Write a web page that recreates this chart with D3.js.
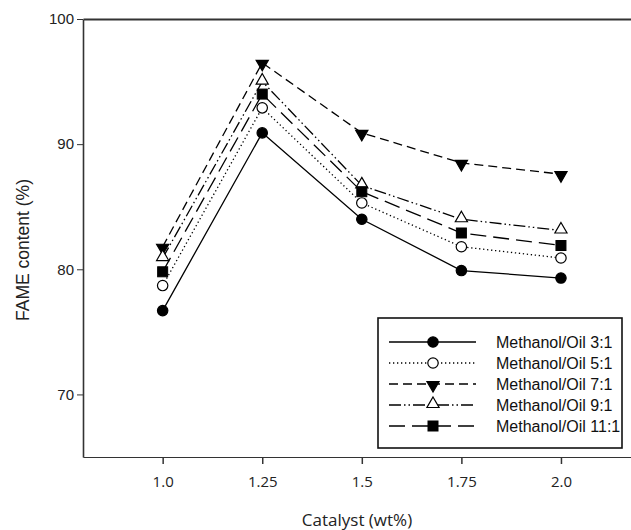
<!DOCTYPE html>
<html lang="en">
<head>
	<meta charset="UTF-8">
	<title>FAME content vs catalyst</title>
	<script src="https://cdn.jsdelivr.net/npm/d3@7/dist/d3.min.js"></script>
	<style type="text/css">
		body { margin: 0; background: #fff; }
		svg { display: block; }
		.axis path, .axis line { stroke: #333; }
		.series { fill: none; stroke: #000; stroke-width: 1.3; }
	</style>
</head>
<body>

<script type="text/javascript">
	// data
	var catalyst = [1.0, 1.25, 1.5, 1.75, 2.0];
	var xTickLabels = ['1.0', '1.25', '1.5', '1.75', '2.0'];
	var yTicks = [70, 80, 90, 100];

	var ratio3 = [76.7, 90.9, 84.0, 79.9, 79.3];
	var ratio5 = [78.7, 92.9, 85.3, 81.8, 80.9];
	var ratio7 = [81.8, 96.5, 90.9, 88.5, 87.6];
	var ratio9 = [80.9, 95.0, 86.7, 84.0, 83.1];
	var ratio11 = [79.8, 94.0, 86.2, 82.9, 81.9];

	var seriesNames = ['Methanol/Oil 3:1', 'Methanol/Oil 5:1', 'Methanol/Oil 7:1', 'Methanol/Oil 9:1', 'Methanol/Oil 11:1'];

	window.onload = function () {

		var width = 631, height = 530;
		var left = 83, top = 19, bottom = 457;

		var svg = d3.select('body').append('svg')
			.attr('width', width)
			.attr('height', height);

		var x = d3.scaleLinear().domain([0.8, 2.2]).range([left, left + 1.4 * 398.3]);
		var y = d3.scaleLinear().domain([65, 100]).range([bottom, top]);

		// styles for each series
		var styles = [
			{dash: null, marker: 'circle', fill: '#000'},
			{dash: '1.3,2.7', marker: 'circle', fill: '#fff'},
			{dash: '9,5', marker: 'down', fill: '#000'},
			{dash: '12,3,1.5,3,1.5,3', marker: 'up', fill: '#fff'},
			{dash: '16,7', marker: 'square', fill: '#000'}
		];
		var values = [ratio3, ratio5, ratio7, ratio9, ratio11];

		// axes
		svg.append('g')
			.attr('class', 'axis')
			.attr('transform', 'translate(' + left + ',0)')
			.call(d3.axisLeft(y).tickValues(yTicks).tickSize(6).tickSizeOuter(0).tickPadding(3))
			.call(function (g) {
				g.select('.domain').attr('stroke-width', 1.6);
				g.selectAll('text').attr('font-family', 'Liberation Sans, Arial, sans-serif')
					.attr('font-size', 15).attr('fill', '#222');
			});

		svg.append('g')
			.attr('class', 'axis')
			.attr('transform', 'translate(0,' + top + ')')
			.call(d3.axisTop(x).tickValues([]).tickSizeOuter(0))
			.call(function (g) { g.select('.domain').attr('stroke-width', 2); });

		svg.append('g')
			.attr('class', 'axis')
			.attr('transform', 'translate(0,' + bottom + ')')
			.call(d3.axisBottom(x).tickValues(catalyst).tickSize(7).tickSizeOuter(0).tickPadding(12)
				.tickFormat(function (d, i) { return xTickLabels[i]; }))
			.call(function (g) {
				g.select('.domain').attr('stroke-width', 1.2);
				g.selectAll('line').attr('stroke-width', 1.5);
				g.selectAll('text').attr('font-family', 'Open Sans, sans-serif')
					.attr('font-size', 15).attr('fill', '#222');
			});

		svg.append('text')
			.attr('x', 357).attr('y', 526)
			.attr('text-anchor', 'middle')
			.attr('font-family', 'Open Sans, sans-serif')
			.attr('font-size', 17)
			.attr('fill', '#222')
			.text('Catalyst (wt%)');

		svg.append('text')
			.attr('transform', 'translate(29,250) rotate(-90)')
			.attr('text-anchor', 'middle')
			.attr('font-family', 'Liberation Sans, Arial, sans-serif')
			.attr('font-size', 17.5)
			.attr('fill', '#222')
			.text('FAME content (%)');

		function drawMarker(g, type, fill, cx, cy) {
			if (type === 'circle') {
				g.append('circle').attr('cx', cx).attr('cy', cy).attr('r', 5.2)
					.attr('fill', fill).attr('stroke', '#000').attr('stroke-width', 1.2);
			} else if (type === 'square') {
				g.append('rect').attr('x', cx - 5).attr('y', cy - 5).attr('width', 10).attr('height', 10)
					.attr('fill', fill).attr('stroke', '#000').attr('stroke-width', 1);
			} else {
				var sym = d3.symbol().type(d3.symbolTriangle).size(64);
				g.append('path').attr('d', sym())
					.attr('transform', 'translate(' + cx + ',' + (type === 'down' ? cy + 1 : cy - 1) + ')' + (type === 'down' ? ' rotate(180)' : ''))
					.attr('fill', fill).attr('stroke', '#000').attr('stroke-width', 1.2);
			}
		}

		var line = d3.line()
			.x(function (d, i) { return x(catalyst[i]); })
			.y(function (d) { return y(d); });

		values.forEach(function (vals, s) {
			svg.append('path')
				.datum(vals)
				.attr('class', 'series')
				.attr('stroke-dasharray', styles[s].dash)
				.attr('d', line);
		});

		values.forEach(function (vals, s) {
			var g = svg.append('g');
			vals.forEach(function (v, i) {
				drawMarker(g, styles[s].marker, styles[s].fill, x(catalyst[i]), y(v));
			});
		});

		// legend
		var lg = svg.append('g');
		lg.append('rect')
			.attr('x', 378).attr('y', 318).attr('width', 244).attr('height', 130)
			.attr('fill', '#fff').attr('stroke', '#111').attr('stroke-width', 1.6);

		seriesNames.forEach(function (name, s) {
			var ly = 342 + s * 21;
			lg.append('line')
				.attr('x1', 389).attr('x2', 476).attr('y1', ly).attr('y2', ly)
				.attr('class', 'series')
				.attr('stroke-dasharray', styles[s].dash);
			drawMarker(lg, styles[s].marker, styles[s].fill, 433, ly);
			lg.append('text')
				.attr('x', 496).attr('y', ly + 5.5)
				.attr('font-family', 'Liberation Sans, Arial, sans-serif')
				.attr('font-size', 16)
				.attr('fill', '#111')
				.text(name);
		});
	};
</script>

</body>
</html>
